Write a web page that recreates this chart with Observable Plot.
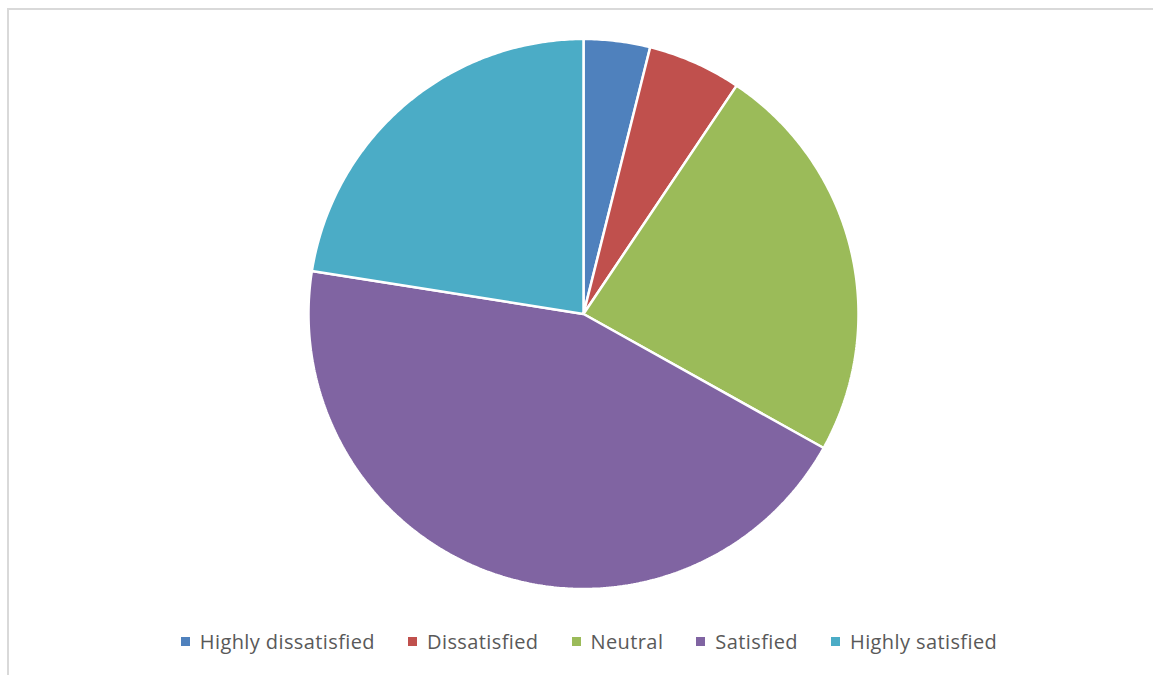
<!DOCTYPE html>
<html>
<head>
<meta charset="utf-8">
<script src="https://cdn.jsdelivr.net/npm/d3@7"></script>
<script src="https://cdn.jsdelivr.net/npm/@observablehq/plot@0.6"></script>
<style>
  html, body { margin: 0; padding: 0; background: #fff; overflow: hidden; }
  #wrap { position: relative; width: 1153px; height: 675px; overflow: hidden; }
  #frame { position: absolute; left: 7px; top: 8px; width: 1200px; height: 720px; border: 2px solid #d9d9d9; box-sizing: border-box; }
  #chart { position: absolute; left: 0; top: 0; }
  #legend { position: absolute; left: 0; top: 628px; width: 1178px; display: flex; justify-content: center; font-family: "Open Sans", sans-serif; font-size: 20px; letter-spacing: 0.4px; color: #595959; }
  .item { display: flex; align-items: center; margin: 0 16.5px; }
  .sw { width: 9px; height: 9px; margin-right: 10px; }
</style>
</head>
<body>
<div id="wrap">
  <div id="frame"></div>
  <div id="chart"></div>
  <div id="legend"></div>
</div>
<script>
const categories = ["Highly dissatisfied", "Dissatisfied", "Neutral", "Satisfied", "Highly satisfied"];
const values = [3.9, 5.5, 23.7, 44.4, 22.5];
const colors = ["#4F81BD", "#C0504D", "#9BBB59", "#8064A2", "#4BACC6"];

const table = categories.map((c, i) => ({label: c, value: values[i]}));
const arcs = d3.pie().sort(null).value(d => d.value)(table);

// polygon points for each slice in unit-circle data space
const points = [];
for (const a of arcs) {
  const steps = Math.max(2, Math.ceil((a.endAngle - a.startAngle) / 0.01));
  points.push({label: a.data.label, x: 0, y: 0});
  for (let k = 0; k <= steps; k++) {
    const t = a.startAngle + (a.endAngle - a.startAngle) * k / steps;
    points.push({label: a.data.label, x: Math.sin(t), y: Math.cos(t)});
  }
}

const chart = Plot.plot({
  width: 1153,
  height: 620,
  marginLeft: 308,
  marginRight: 295,
  marginTop: 38.5,
  marginBottom: 31.5,
  x: {domain: [-1, 1], axis: null},
  y: {domain: [-1, 1], axis: null},
  color: {domain: categories, range: colors},
  marks: [
    Plot.line(points, {x: "x", y: "y", z: "label", fill: "label", stroke: "white", strokeWidth: 2.5, strokeLinejoin: "miter", curve: "linear-closed"})
  ]
});
document.getElementById("chart").appendChild(chart);

const legend = document.getElementById("legend");
categories.forEach((c, i) => {
  const item = document.createElement("div");
  item.className = "item";
  const sw = document.createElement("div");
  sw.className = "sw";
  sw.style.background = colors[i];
  const tx = document.createElement("span");
  tx.textContent = c;
  item.appendChild(sw);
  item.appendChild(tx);
  legend.appendChild(item);
});
</script>
</body>
</html>
